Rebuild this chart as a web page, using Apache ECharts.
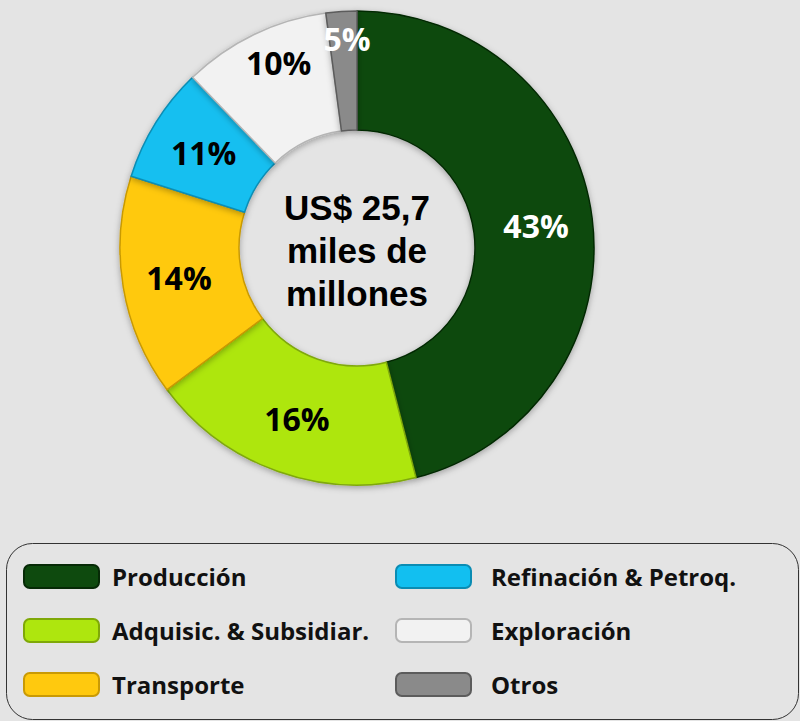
<!DOCTYPE html>
<html>
<head>
<meta charset="utf-8">
<script src="https://cdn.jsdelivr.net/npm/echarts@6/dist/echarts.min.js"></script>
<style>
  html, body { margin: 0; padding: 0; background: #e4e4e4; }
  #chart { width: 800px; height: 721px; }
</style>
</head>
<body>
<div id="chart"></div>
<script>
  // slices, clockwise from 12 o'clock
  var categories = ['Producción', 'Adquisic. & Subsidiar.', 'Transporte', 'Refinación & Petroq.', 'Exploración', 'Otros'];
  // slice sizes as drawn (estimated from the angles in the picture)
  var shares = [46.0, 18.8, 15.1, 7.9, 10.1, 2.1];
  // percentages printed on the slices
  var labelTexts = ['43%', '16%', '14%', '11%', '10%', '5%'];
  var colors = ['#0e4a0e', '#aee60e', '#ffc90e', '#12bff0', '#f2f2f2', '#8a8a8a'];
  var edgeColors = ['#062a06', '#7fa808', '#c99a05', '#0a8cb3', '#b5b5b5', '#5c5c5c'];
  var labelColors = ['#ffffff', '#000000', '#000000', '#000000', '#000000', '#ffffff'];
  var labelOffsets = [[0, 0], [0, 0], [0, 0], [0, 0], [0, -23], [2, -29]];
  var centerText = 'US$ 25,7\nmiles de\nmillones';

  var leftItems = categories.slice(0, 3);
  var rightItems = categories.slice(3);

  var pieData = categories.map(function(name, i) {
    return {
      name: name,
      value: shares[i],
      itemStyle: { color: colors[i], borderColor: edgeColors[i] },
      label: { color: labelColors[i], offset: labelOffsets[i], formatter: labelTexts[i] }
    };
  });

  function legendCol(items, left, textPad) {
    return {
      data: items,
      left: left,
      top: 559,
      orient: 'vertical',
      icon: 'roundRect',
      itemWidth: 75,
      itemHeight: 23,
      itemGap: 29,
      selectedMode: false,
      textStyle: {
        fontFamily: 'Open Sans',
        fontWeight: 'bold',
        fontSize: 24,
        color: '#111',
        lineHeight: 23,
        padding: [0, 0, 0, textPad]
      }
    };
  }

  var chart = echarts.init(document.getElementById('chart'), null, { renderer: 'svg' });
  chart.setOption({
    animation: false,
    backgroundColor: '#e4e4e4',
    legend: [
      legendCol(leftItems, 18, 8),
      legendCol(rightItems, 390, 15)
    ],
    graphic: [
      {
        type: 'rect',
        left: 4,
        top: 541,
        shape: { width: 792, height: 176, r: 26 },
        style: { fill: 'none', stroke: '#333', lineWidth: 1 },
        silent: true
      },
      {
        type: 'text',
        x: 357,
        y: 250,
        style: {
          text: centerText,
          fontFamily: 'Liberation Sans',
          fontWeight: 'bold',
          fontSize: 35,
          lineHeight: 43,
          fill: '#000',
          align: 'center',
          verticalAlign: 'middle'
        },
        silent: true
      }
    ],
    series: [{
      type: 'pie',
      center: [357, 248],
      radius: [118, 237],
      startAngle: 90,
      clockwise: true,
      avoidLabelOverlap: false,
      silent: true,
      itemStyle: {
        borderWidth: 1.5,
        shadowBlur: 6,
        shadowOffsetY: 2,
        shadowColor: 'rgba(0,0,0,0.3)'
      },
      label: {
        show: true,
        position: 'inside',
        fontFamily: 'Open Sans',
        fontWeight: 'bold',
        fontSize: 32
      },
      labelLine: { show: false },
      data: pieData
    }]
  });
  window.addEventListener('resize', function() { chart.resize(); });
</script>
</body>
</html>
